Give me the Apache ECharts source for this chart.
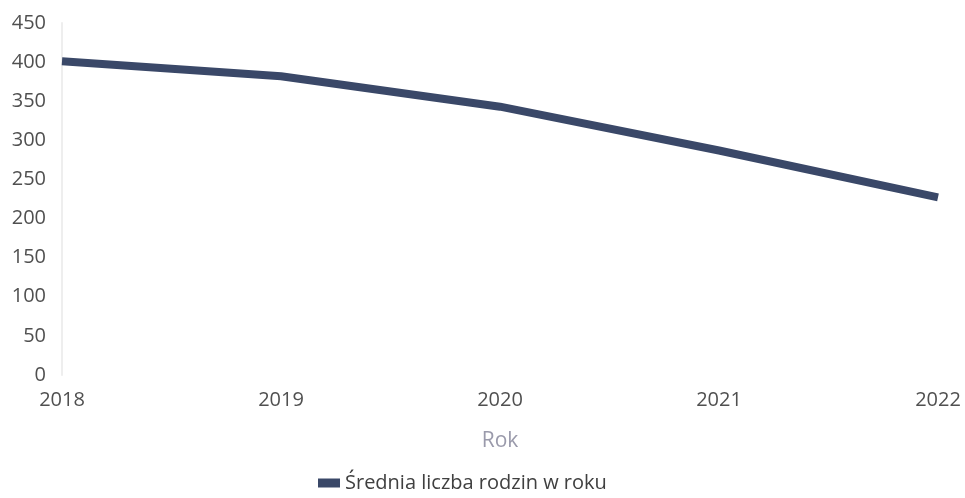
<!DOCTYPE html>
<html><head><meta charset="utf-8">
<script src="https://cdn.jsdelivr.net/npm/echarts@6/dist/echarts.min.js"></script>
<style>html,body{margin:0;padding:0;background:#fff}#c{width:965px;height:498px}</style>
</head><body><div id="c"></div>
<script>
const categories = ['2018', '2019', '2020', '2021', '2022'];
const values = [401, 382, 343, 287, 227];
const seriesName = 'Średnia liczba rodzin w roku';
const xAxisName = 'Rok';

const chart = echarts.init(document.getElementById('c'));
chart.setOption({
  animation: false,
  grid: { left: 62, right: 27, top: 23, bottom: 123 },
  xAxis: {
    type: 'category', data: categories, boundaryGap: false,
    name: xAxisName, nameLocation: 'middle', nameGap: 56,
    nameTextStyle: { color: '#9a9aab', fontSize: 21, fontFamily: 'Open Sans' },
    axisLine: { show: false }, axisTick: { show: false },
    axisLabel: { color: '#505050', fontSize: 20, fontFamily: 'Open Sans', margin: 15 }
  },
  yAxis: {
    type: 'value', min: 0, max: 450, interval: 50,
    axisLine: { show: true, lineStyle: { color: '#eeeeee', width: 2 } },
    axisTick: { show: false }, splitLine: { show: false },
    axisLabel: { color: '#505050', fontSize: 20, fontFamily: 'Open Sans', margin: 16 }
  },
  legend: {
    bottom: 0, left: 313, itemWidth: 22, itemHeight: 9, icon: 'rect', itemGap: 6,
    textStyle: { color: '#404040', fontSize: 20, fontFamily: 'Open Sans' },
    data: [seriesName]
  },
  series: [{
    name: seriesName, type: 'line', data: values, symbol: 'none',
    lineStyle: { color: '#3a4868', width: 8 }, itemStyle: { color: '#3a4868' }
  }]
});
</script></body></html>
